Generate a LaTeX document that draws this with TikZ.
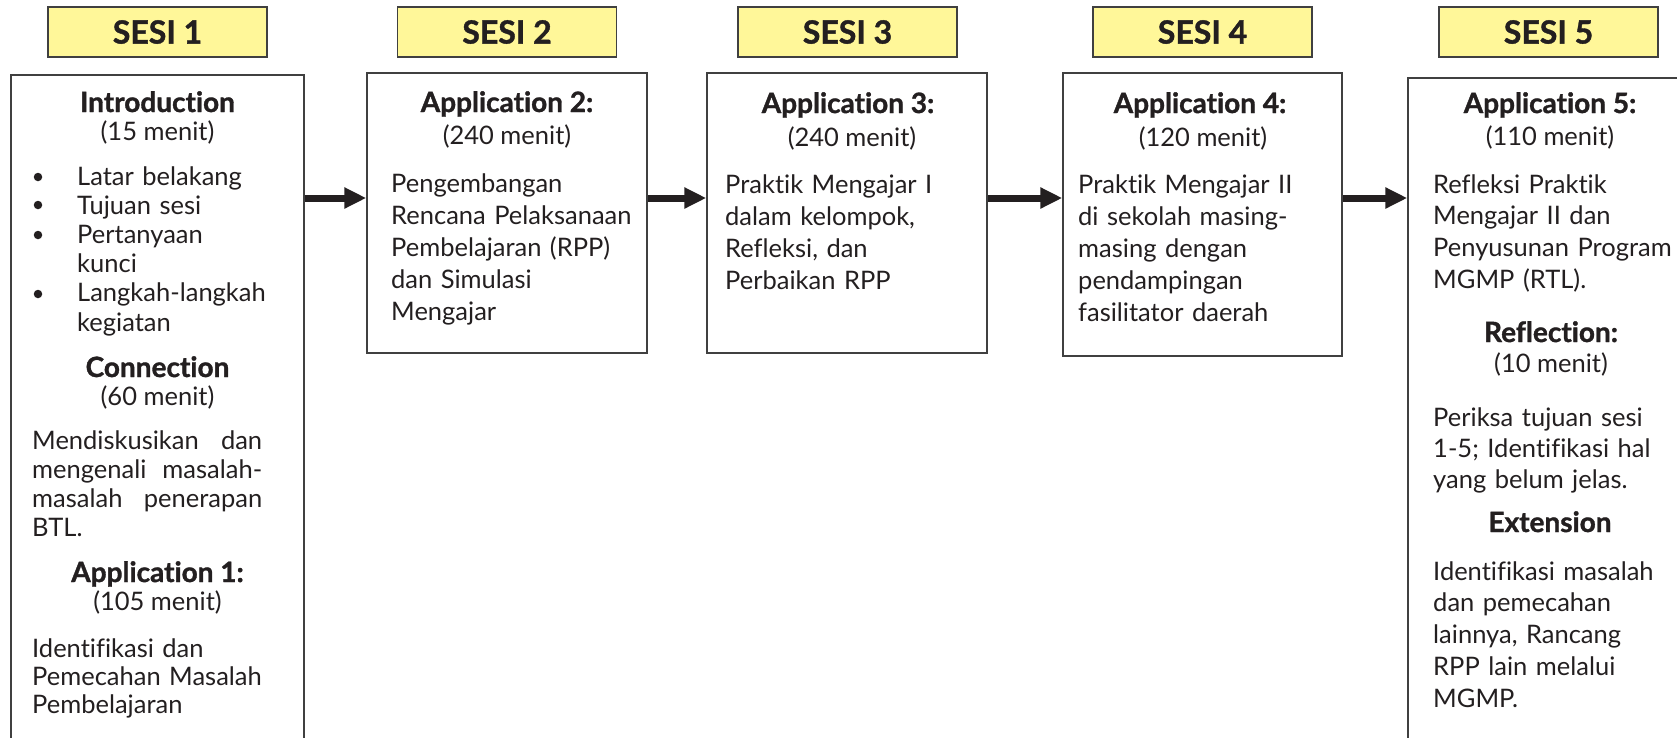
\documentclass[tikz,border=0pt]{standalone}
\usepackage{fontspec}
\setmainfont{Lato}[Ligatures=NoCommon, BoldFeatures={FakeBold=1.2}]
\usetikzlibrary{arrows.meta,positioning}

\definecolor{sesikuning}{HTML}{FFF799}
\definecolor{garis}{HTML}{404040}
\definecolor{tinta}{HTML}{231F20}

\begin{document}
\begin{tikzpicture}[x=1pt,y=-1pt,
    every node/.style={text=tinta},
    sesihead/.style={
        draw=garis,
        line width=1.5pt,
        fill=sesikuning,
        minimum width=219pt,
        minimum height=50pt,
        inner sep=0pt,
        font=\fontsize{32}{36}\selectfont\bfseries},
    kotak/.style={draw=garis, line width=1.5pt, inner sep=0pt},
    butir/.style={circle, fill=tinta, minimum size=8.5pt, inner sep=0pt},
    judul/.style={anchor=base, inner sep=0pt, font=\fontsize{28}{32}\selectfont\bfseries},
    durasi/.style={anchor=base, inner sep=0pt, font=\fontsize{25.5}{30}\selectfont},
    isi/.style={%
        anchor=base west,
        inner sep=0pt,
        align=left,
        text width=260pt,
        font=\fontsize{25.5}{#1}\selectfont},
    panah/.style={draw=tinta, line width=7pt, -{Triangle[length=22pt,width=20pt]}},
]

\useasboundingbox (0,0) rectangle (1677,737);
\clip (0,0) rectangle (1677,737);

% kotak sesi
\node[kotak, minimum width=293pt, minimum height=725pt] (box1) at (157.5,437.5) {};
\node[kotak, minimum width=280pt, minimum height=280pt] (box2) at (507,213) {};
\node[kotak, minimum width=280pt, minimum height=280pt] (box3) at (847,213) {};
\node[kotak, minimum width=279pt, minimum height=283pt] (box4) at (1202.5,214.5) {};
\node[kotak, minimum width=292pt, minimum height=722pt] (box5) at (1554,439) {};

% judul sesi
\node[sesihead] (sesi1) at (157.5,32) {SESI 1};
\node[sesihead] (sesi2) at (507,32) {SESI 2};
\node[sesihead] (sesi3) at (847.5,32) {SESI 3};
\node[sesihead] (sesi4) at (1202.5,32) {SESI 4};
\node[sesihead] (sesi5) at (1548.5,32) {SESI 5};

% panah antar sesi
\coordinate (alur) at (0,198);
\foreach \a/\b in {1/2,2/3,3/4,4/5}
    \draw[panah] (box\a.east |- alur) -- (box\b.west |- alur);

% sesi 1
\node[judul] (intro) at (157.5,112) {Introduction};
\node[durasi] (introwaktu) at (157.5,140) {(15 menit)};
\foreach \y in {185,213,243,302}
    \node[butir] (butir\y) at (38,\y-8) {};
\node[isi=29.2] (introisi) at (77,185)
    {Latar belakang\\Tujuan sesi\\Pertanyaan\\kunci\\Langkah-langkah\\kegiatan};
\node[judul] (conn) at (157.5,377) {Connection};
\node[durasi] (connwaktu) at (157.5,405) {(60 menit)};
\node[isi=29.2, text width=230pt] (connisi) at (32,449)
    {Mendiskusikan\hfill dan\\mengenali\hfill masalah-\\masalah\hfill penerapan\\BTL.};
\node[judul] (app1) at (157.5,582) {Application 1:};
\node[durasi] (app1waktu) at (157.5,610) {(105 menit)};
\node[isi=28] (app1isi) at (32,657)
    {Identifikasi dan\\Pemecahan Masalah\\Pembelajaran};

% sesi 2
\node[judul] (app2) at (507,112) {Application 2:};
\node[durasi] (app2waktu) at (507,144) {(240 menit)};
\node[isi=32.2] (app2isi) at (391,192)
    {Pengembangan\\Rencana Pelaksanaan\\Pembelajaran (RPP)\\dan Simulasi\\Mengajar};

% sesi 3
\node[judul] (app3) at (848,113) {Application 3:};
\node[durasi] (app3waktu) at (852,146) {(240 menit)};
\node[isi=32] (app3isi) at (725,193)
    {Praktik Mengajar I\\dalam kelompok,\\Refleksi, dan\\Perbaikan RPP};

% sesi 4
\node[judul] (app4) at (1200,113) {Application 4:};
\node[durasi] (app4waktu) at (1203,146) {(120 menit)};
\node[isi=32] (app4isi) at (1078,193)
    {Praktik Mengajar II\\di sekolah masing-\\masing dengan\\pendampingan\\fasilitator daerah};

% sesi 5
\node[judul] (app5) at (1550,113) {Application 5:};
\node[durasi] (app5waktu) at (1550,145) {(110 menit)};
\node[isi=31.7] (app5isi) at (1433,193)
    {Refleksi Praktik\\Mengajar II dan\\Penyusunan Program\\MGMP (RTL).};
\node[judul] (refl) at (1551,342) {Reflection:};
\node[durasi] (reflwaktu) at (1551,372) {(10 menit)};
\node[isi=31] (reflisi) at (1433,426)
    {Periksa tujuan sesi\\1-5; Identifikasi hal\\yang belum jelas.};
\node[judul] (ext) at (1550,532) {Extension};
\node[isi=31.75] (extisi) at (1433,580)
    {Identifikasi masalah\\dan pemecahan\\lainnya, Rancang\\RPP lain melalui\\MGMP.};
\end{tikzpicture}
\end{document}
